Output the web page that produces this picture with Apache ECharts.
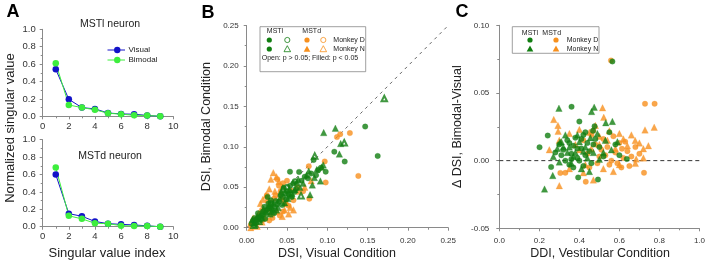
<!DOCTYPE html>
<html><head><meta charset="utf-8">
<script src="https://cdn.jsdelivr.net/npm/echarts@6/dist/echarts.min.js"></script>
<style>html,body{margin:0;padding:0;background:#fff}#c{width:708px;height:263px}</style>
</head><body><div id="c"></div>
<script>
// ---------- Panel A data ----------
const svIndex = [1,2,3,4,5,6,7,8,9];
const mstlVisual  = [0.54,0.195,0.10,0.085,0.038,0.027,0.024,0.01,0.0];
const mstlBimodal = [0.61,0.13,0.10,0.075,0.035,0.025,0.012,0.01,0.0];
const mstdVisual  = [0.60,0.15,0.12,0.06,0.035,0.027,0.02,0.01,0.0];
const mstdBimodal = [0.68,0.125,0.09,0.04,0.035,0.012,0.008,0.008,0.0];
const aXTicks = [0,2,4,6,8,10];
const aYTicks = [0.0,0.2,0.4,0.6,0.8,1.0];

// ---------- Panel B data (DSI visual, DSI bimodal) ----------
const bMstlDFilled = [[0.147,0.125],[0.1625,0.0887],[0.1087,0.094],[0.1216,0.0817],[0.083,0.0838],[0.0889,0.0714],[0.098,0.0693],[0.0537,0.0693],[0.065,0.069],[0.058,0.055],[0.062,0.054],[0.054,0.052],[0.048,0.042],[0.05,0.045],[0.045,0.038],[0.04,0.032],[0.038,0.029],[0.035,0.026],[0.03,0.028],[0.028,0.024],[0.025,0.022],[0.022,0.026],[0.02,0.02],[0.018,0.015],[0.015,0.012],[0.012,0.01],[0.01,0.008],[0.008,0.009],[0.006,0.005],[0.014,0.018],[0.017,0.013],[0.024,0.018],[0.027,0.03],[0.032,0.022],[0.036,0.033],[0.042,0.04],[0.046,0.049],[0.052,0.041],[0.056,0.038],[0.061,0.048],[0.068,0.058],[0.072,0.063],[0.076,0.061],[0.08,0.067],[0.086,0.065],[0.092,0.074],[0.01,0.012],[0.012,0.006],[0.02,0.016],[0.023,0.011],[0.026,0.038],[0.03,0.034],[0.034,0.018],[0.044,0.028],[0.049,0.035],[0.059,0.044]];
const bMstlDOpen = [[0.06,0.057],[0.05,0.05],[0.03,0.03],[0.018,0.011]];
const bMstlNFilled = [[0.0955,0.1176],[0.11,0.123],[0.1166,0.104],[0.115,0.091],[0.095,0.0776],[0.0914,0.0578],[0.0814,0.0528],[0.0786,0.0408],[0.0744,0.0652],[0.093,0.075],[0.087,0.072],[0.07,0.055],[0.066,0.05],[0.06,0.047],[0.055,0.04],[0.051,0.036],[0.047,0.031],[0.041,0.036],[0.039,0.025],[0.033,0.03],[0.031,0.02],[0.027,0.027],[0.024,0.02],[0.021,0.023],[0.019,0.012],[0.016,0.01],[0.013,0.014],[0.009,0.006],[0.007,0.01],[0.011,0.004],[0.029,0.017],[0.037,0.022],[0.043,0.044],[0.053,0.047],[0.064,0.06],[0.077,0.07],[0.084,0.062]];
const bMstlNOpen = [[0.1707,0.1597],[0.121,0.105],[0.0844,0.0887],[0.0674,0.0396],[0.045,0.048],[0.03,0.025],[0.015,0.008],[0.009,0.003],[0.055,0.043]];
const bMstdDFilled = [[0.128,0.117],[0.116,0.1156],[0.112,0.112],[0.1385,0.064],[0.0968,0.082],[0.077,0.076],[0.098,0.056],[0.0777,0.0359],[0.045,0.055],[0.04,0.052],[0.038,0.06],[0.042,0.045],[0.036,0.04],[0.05,0.058],[0.055,0.046],[0.034,0.036],[0.03,0.031],[0.026,0.033],[0.022,0.02],[0.019,0.022],[0.016,0.016],[0.013,0.011],[0.01,0.01],[0.007,0.006],[0.005,0.003],[0.025,0.04],[0.048,0.03],[0.052,0.027],[0.058,0.034],[0.063,0.05],[0.07,0.045],[0.045,0.02],[0.041,0.015],[0.032,0.012],[0.028,0.009]];
const bMstdDOpen = [[0.008,0.004],[0.02,0.01]];
const bMstdNFilled = [[0.033,0.068],[0.037,0.063],[0.03,0.06],[0.04,0.057],[0.044,0.05],[0.028,0.048],[0.035,0.045],[0.024,0.04],[0.02,0.035],[0.017,0.03],[0.042,0.038],[0.046,0.035],[0.05,0.03],[0.054,0.025],[0.047,0.022],[0.038,0.02],[0.044,0.014],[0.052,0.017],[0.058,0.022],[0.065,0.045],[0.072,0.05],[0.08,0.058],[0.026,0.024],[0.015,0.018],[0.012,0.008],[0.008,0.012],[0.005,0.0],[0.022,0.014],[0.019,0.007],[0.03,0.018]];
const bMstdNOpen = [[0.012,0.002],[0.03,0.025]];
const bUnityLine = [[0,0],[0.25,0.25]];

// ---------- Panel C data (DDI vestibular, delta DSI) ----------
const cMstlD = [[0.565,0.0733],[0.361,0.0398],[0.40,0.0289],[0.476,0.0254],[0.468,0.022],[0.201,0.0099],[0.242,0.0185],[0.259,-0.0047],[0.394,-0.0124],[0.493,-0.014],[0.637,0.0012],[0.3,0.012],[0.32,0.008],[0.34,0.015],[0.36,0.005],[0.37,0.011],[0.38,0.017],[0.39,0.002],[0.41,0.009],[0.42,0.019],[0.43,0.004],[0.44,0.013],[0.45,0.007],[0.46,-0.002],[0.48,0.016],[0.5,0.01],[0.52,0.003],[0.55,0.021],[0.33,0.0],[0.35,-0.003],[0.37,-0.005],[0.4,0.0],[0.42,-0.004],[0.31,0.004],[0.28,0.006],[0.43,0.021],[0.47,0.012],[0.58,0.012],[0.6,0.004],[0.35,0.013],[0.39,0.009],[0.41,0.016],[0.36,0.001]];
const cMstlN = [[0.298,0.0387],[0.474,0.0395],[0.461,0.0363],[0.532,0.028],[0.565,0.029],[0.226,-0.021],[0.267,-0.011],[0.303,0.0136],[0.27,0.003],[0.29,0.009],[0.31,0.014],[0.33,0.019],[0.35,0.01],[0.36,-0.002],[0.38,0.006],[0.4,0.014],[0.41,-0.006],[0.44,0.002],[0.45,-0.008],[0.47,0.006],[0.49,0.02],[0.5,0.001],[0.53,0.015],[0.56,0.008],[0.59,0.014],[0.34,0.006],[0.3,-0.001],[0.39,0.019],[0.43,0.01],[0.455,0.017],[0.52,0.006],[0.37,0.003],[0.32,0.01],[0.42,0.007]];
const cMstdD = [[0.558,0.074],[0.728,0.042],[0.776,0.042],[0.305,-0.0091],[0.33,-0.009],[0.432,-0.0156],[0.723,-0.009],[0.629,0.014],[0.613,0.0087],[0.44,0.005],[0.46,0.019],[0.48,0.012],[0.5,0.003],[0.52,0.016],[0.54,0.01],[0.56,0.0],[0.58,0.006],[0.6,0.013],[0.62,0.002],[0.64,0.007],[0.66,0.003],[0.68,0.01],[0.7,0.005],[0.55,-0.003],[0.57,0.018],[0.45,-0.005],[0.49,-0.002],[0.53,0.004],[0.59,-0.002],[0.61,-0.005],[0.42,0.015],[0.47,0.022],[0.51,0.008],[0.65,-0.004]];
const cMstdN = [[0.516,0.039],[0.272,0.0304],[0.522,0.032],[0.294,0.0217],[0.293,0.026],[0.25,0.008],[0.774,0.0247],[0.728,0.0227],[0.30,-0.0185],[0.47,-0.0143],[0.679,0.0148],[0.70,0.013],[0.745,0.011],[0.72,0.0087],[0.684,0.0012],[0.72,0.002],[0.3,0.015],[0.35,0.02],[0.4,0.023],[0.45,0.021],[0.48,0.026],[0.5,0.018],[0.55,0.022],[0.6,0.02],[0.58,0.009],[0.62,0.016],[0.4,0.008],[0.43,-0.003],[0.46,0.009],[0.52,-0.006],[0.57,-0.008],[0.64,0.011],[0.66,0.019],[0.35,-0.006],[0.38,0.012],[0.5,0.012],[0.6,-0.003],[0.68,-0.002],[0.42,-0.009],[0.54,0.015]];
const cZeroLine = [[0,0],[1,0]];

// ---------- styling ----------
const FONT = 'Liberation Sans, Arial, sans-serif';
const BLUE = '#1212C8', LGREEN = '#3DEE3D', DGREEN = '#117E11', ORANGE = '#F7901E';
const AX = '#8a8a8a';

function axisBase(opts){
  return Object.assign({
    type:'value', splitLine:{show:false},
    axisLine:{show:true, onZero:false, lineStyle:{color:AX, width:1}},
    axisTick:{show:true, inside:false, length:3, lineStyle:{color:AX}},
    minorTick:{show:true, splitNumber:2, length:2, lineStyle:{color:AX}},
    axisLabel:{color:'#333', fontFamily:FONT, fontSize:8},
  }, opts);
}

const grids = [
  {left:42.7, top:29.3, width:130.6, height:87},
  {left:42.7, top:139.7, width:130.6, height:87},
  {left:246.7, top:25.5, width:201.5, height:202.2},
  {left:499.3, top:25.3, width:202.4, height:203}
];

const aLab = {color:'#333',fontFamily:FONT,fontSize:9.5};
const bLab = {color:'#333',fontFamily:FONT,fontSize:8};
const xAxes = [
  axisBase({gridIndex:0, min:aXTicks[0], max:aXTicks[aXTicks.length-1], interval:2, axisLabel:Object.assign({margin:5},aLab)}),
  axisBase({gridIndex:1, min:aXTicks[0], max:aXTicks[aXTicks.length-1], interval:2, axisLabel:Object.assign({margin:5},aLab)}),
  axisBase({gridIndex:2, min:0, max:0.25, interval:0.05, axisLabel:Object.assign({margin:9,formatter:v=>v.toFixed(2)},bLab)}),
  axisBase({gridIndex:3, min:0, max:1, interval:0.2, axisLabel:Object.assign({margin:8,formatter:v=>v.toFixed(1)},bLab)})
];
const yAxes = [
  axisBase({gridIndex:0, min:aYTicks[0], max:aYTicks[aYTicks.length-1], interval:0.2, axisLabel:Object.assign({margin:7,formatter:v=>v.toFixed(1)},aLab)}),
  axisBase({gridIndex:1, min:aYTicks[0], max:aYTicks[aYTicks.length-1], interval:0.2, axisLabel:Object.assign({margin:7,formatter:v=>v.toFixed(1)},aLab)}),
  axisBase({gridIndex:2, min:0, max:0.25, interval:0.05, axisLabel:Object.assign({margin:8,formatter:v=>v.toFixed(2)},bLab)}),
  axisBase({gridIndex:3, min:-0.05, max:0.10, interval:0.05, axisLabel:Object.assign({margin:10,formatter:v=>(Math.abs(v)<1e-9?0:v).toFixed(2)},bLab)})
];

function lineA(grid, vals, color, name){
  return {type:'line', name, xAxisIndex:grid, yAxisIndex:grid, data:svIndex.map((x,i)=>[x,vals[i]]),
    symbol:'circle', symbolSize:6.5, itemStyle:{color}, lineStyle:{color, width:1}, silent:true, z:3};
}
function sc(grid, data, symbol, color, size, open){
  return {type:'scatter', xAxisIndex:grid, yAxisIndex:grid, data, symbol: open ? (symbol==='circle'?'emptyCircle':'emptyTriangle') : symbol,
    symbolSize:open?size-1:size, itemStyle: open ? {color, borderColor:color, borderWidth:0.8} : {color, borderColor:color, borderWidth:0.3}, silent:true, z:3};
}

const series = [
  lineA(0, mstlVisual, BLUE, 'Visual'),
  lineA(0, mstlBimodal, LGREEN, 'Bimodal'),
  lineA(1, mstdVisual, BLUE, 'Visual'),
  lineA(1, mstdBimodal, LGREEN, 'Bimodal'),
  {type:'line', xAxisIndex:2, yAxisIndex:2, data:bUnityLine, symbol:'none', lineStyle:{color:'#666', width:1, type:[3,4]}, silent:true, z:2},
  sc(2, bMstdNOpen, 'triangle', ORANGE, 6.5, true),
  sc(2, bMstdDOpen, 'circle', ORANGE, 5.5, true),
  sc(2, bMstdNFilled, 'triangle', ORANGE, 6.5, false),
  sc(2, bMstdDFilled, 'circle', ORANGE, 5.5, false),
  sc(2, bMstlNOpen, 'triangle', DGREEN, 6.5, true),
  sc(2, bMstlDOpen, 'circle', DGREEN, 5.5, true),
  sc(2, bMstlNFilled, 'triangle', DGREEN, 6.5, false),
  sc(2, bMstlDFilled, 'circle', DGREEN, 5.5, false),
  {type:'line', xAxisIndex:3, yAxisIndex:3, data:cZeroLine, symbol:'none', lineStyle:{color:'#333', width:1, type:[4,3]}, silent:true, z:2},
  sc(3, cMstdN, 'triangle', ORANGE, 6.5, false),
  sc(3, cMstdD, 'circle', ORANGE, 5.5, false),
  sc(3, cMstlN, 'triangle', DGREEN, 6.5, false),
  sc(3, cMstlD, 'circle', DGREEN, 5.5, false)
];

// ---------- decorations (text, legends) ----------
function txt(x,y,text,size,opts){
  return Object.assign({type:'text', x, y, z:10, style:Object.assign({text, fontFamily:FONT, fontSize:size, fill:'#222', align:'center', verticalAlign:'middle'}, (opts&&opts.style)||{})}, opts&&opts.rotation!==undefined?{rotation:opts.rotation}:{});
}
function dot(cx,cy,color,open){ return {type:'circle', z:11, shape:{cx,cy,r:2.6}, style: open?{fill:'#fff',stroke:color,lineWidth:0.8}:{fill:color}}; }
function tri(cx,cy,color,open){ const s=6; return {type:'polygon', z:11, shape:{points:[[cx,cy-s*0.55],[cx-s*0.55,cy+s*0.45],[cx+s*0.55,cy+s*0.45]]}, style: open?{fill:'#fff',stroke:color,lineWidth:0.8}:{fill:color}}; }
function legLine(x1,x2,y,color){ return [{type:'line', z:11, shape:{x1,y1:y,x2,y2:y}, style:{stroke:color,lineWidth:1}}, {type:'circle', z:12, shape:{cx:(x1+x2)/2+1,cy:y,r:3.2}, style:{fill:color}}]; }

const graphic = [
  txt(13,12,'A',18,{style:{fontWeight:'bold',fill:'#000'}}),
  txt(208,13,'B',18,{style:{fontWeight:'bold',fill:'#000'}}),
  txt(462,12,'C',18,{style:{fontWeight:'bold',fill:'#000'}}),
  txt(110,24.5,'MSTl neuron',10.5),
  txt(110,156.5,'MSTd neuron',10.5),
  ...legLine(107.5,125,50,BLUE),
  txt(128.5,50,'Visual',8,{style:{align:'left'}}),
  ...legLine(107.5,125,60,LGREEN),
  txt(128.5,60,'Bimodal',8,{style:{align:'left'}}),
  txt(107,253,'Singular value index',13),
  txt(10,128,'Normalized singular value',13,{rotation:Math.PI/2}),
  // B legend
  {type:'rect', z:10, shape:{x:260,y:26.7,width:105.7,height:45}, style:{fill:'#fff',stroke:'#888',lineWidth:0.8}},
  txt(275,31.5,'MSTl',7),
  txt(311.7,31.5,'MSTd',7),
  dot(269.3,40,DGREEN,false), dot(287.3,40,DGREEN,true), dot(307,40,ORANGE,false), dot(323.3,40,ORANGE,true),
  txt(333.3,40,'Monkey D',7,{style:{align:'left'}}),
  dot(269.3,49,DGREEN,false), tri(287.3,49,DGREEN,true), tri(307,49,ORANGE,false), tri(323.3,49,ORANGE,true),
  txt(333.3,49,'Monkey N',7,{style:{align:'left'}}),
  txt(261.7,58.5,'Open: p > 0.05; Filled: p < 0.05',7,{style:{align:'left'}}),
  txt(337,254,'DSI, Visual Condition',12.5),
  txt(207,126.7,'DSI, Bimodal Condition',12.5,{rotation:Math.PI/2}),
  // C legend
  {type:'rect', z:10, shape:{x:512.3,y:26.7,width:86.7,height:26.6}, style:{fill:'#fff',stroke:'#888',lineWidth:0.8}},
  txt(530,32.7,'MSTl',7),
  txt(551.7,32.7,'MSTd',7),
  dot(530,40,DGREEN,false), dot(556,40,ORANGE,false),
  txt(566.7,40,'Monkey D',7,{style:{align:'left'}}),
  tri(530,48.7,DGREEN,false), tri(556,48.7,ORANGE,false),
  txt(566.7,48.7,'Monkey N',7,{style:{align:'left'}}),
  txt(600,254,'DDI, Vestibular Condition',12.5),
  txt(458,126.7,'Δ DSI, Bimodal-Visual',12.5,{rotation:Math.PI/2})
];

const chart = echarts.init(document.getElementById('c'), null, {renderer:'canvas'});
chart.setOption({
  animation:false, backgroundColor:'#fff',
  grid:grids, xAxis:xAxes, yAxis:yAxes, series, graphic
});
</script></body></html>
